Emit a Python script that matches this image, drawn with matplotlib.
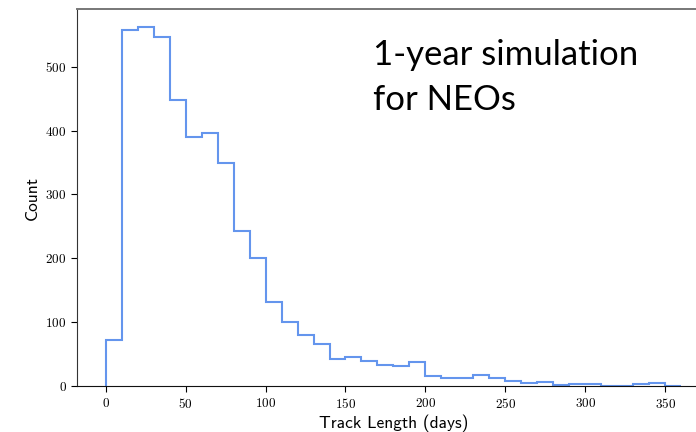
import numpy as np
import matplotlib
matplotlib.use("Agg")
import matplotlib.pyplot as plt

# histogram of track lengths, 10-day bins
bin_edges = np.arange(0, 370, 10)
counts = [72, 557, 562, 546, 448, 390, 396, 350, 243, 201,
          132, 101, 81, 66, 42, 46, 40, 34, 32, 38,
          16, 13, 13, 17, 13, 8, 5, 6, 2, 3,
          3, 1, 0, 3, 5, 1]

x_ticks = [0, 50, 100, 150, 200, 250, 300, 350]
y_ticks = [0, 100, 200, 300, 400, 500]

plt.rcParams["axes.formatter.use_mathtext"] = True
plt.rcParams["mathtext.fontset"] = "cm"

fig = plt.figure(figsize=(6.96, 4.32), dpi=100)
# the axes run past the right edge of the figure, like the cropped original
ax = fig.add_axes([0.1106, 0.1058, 0.9094, 0.8734])

ax.stairs(counts, bin_edges, color="#6495ED", linewidth=1.5)

ax.set_xticks(x_ticks)
ax.set_yticks(y_ticks)
for lab in ax.get_xticklabels() + ax.get_yticklabels():
    lab.set_family("cmr10")
    lab.set_fontsize(9.5)
ax.tick_params(direction="out", length=4, width=0.8)

ax.set_xlabel("Track Length (days)", family="cmss10", fontsize=12.5, labelpad=3)
ax.set_ylabel("Count", family="cmss10", fontsize=12.5, labelpad=4)

ax.spines["top"].set_color("#777777")
ax.spines["top"].set_linewidth(1.4)
ax.spines["left"].set_color("#333333")
ax.spines["bottom"].set_color("#111111")

# baseline of the last line sits at y = 110 px from the top
fig.text(373 / 696, 1 - 110 / 432, "1-year simulation\nfor NEOs", family="Lato",
         fontsize=25, linespacing=1.5, va="baseline", ha="left", color="black")

fig.savefig("out.png", dpi=100)
